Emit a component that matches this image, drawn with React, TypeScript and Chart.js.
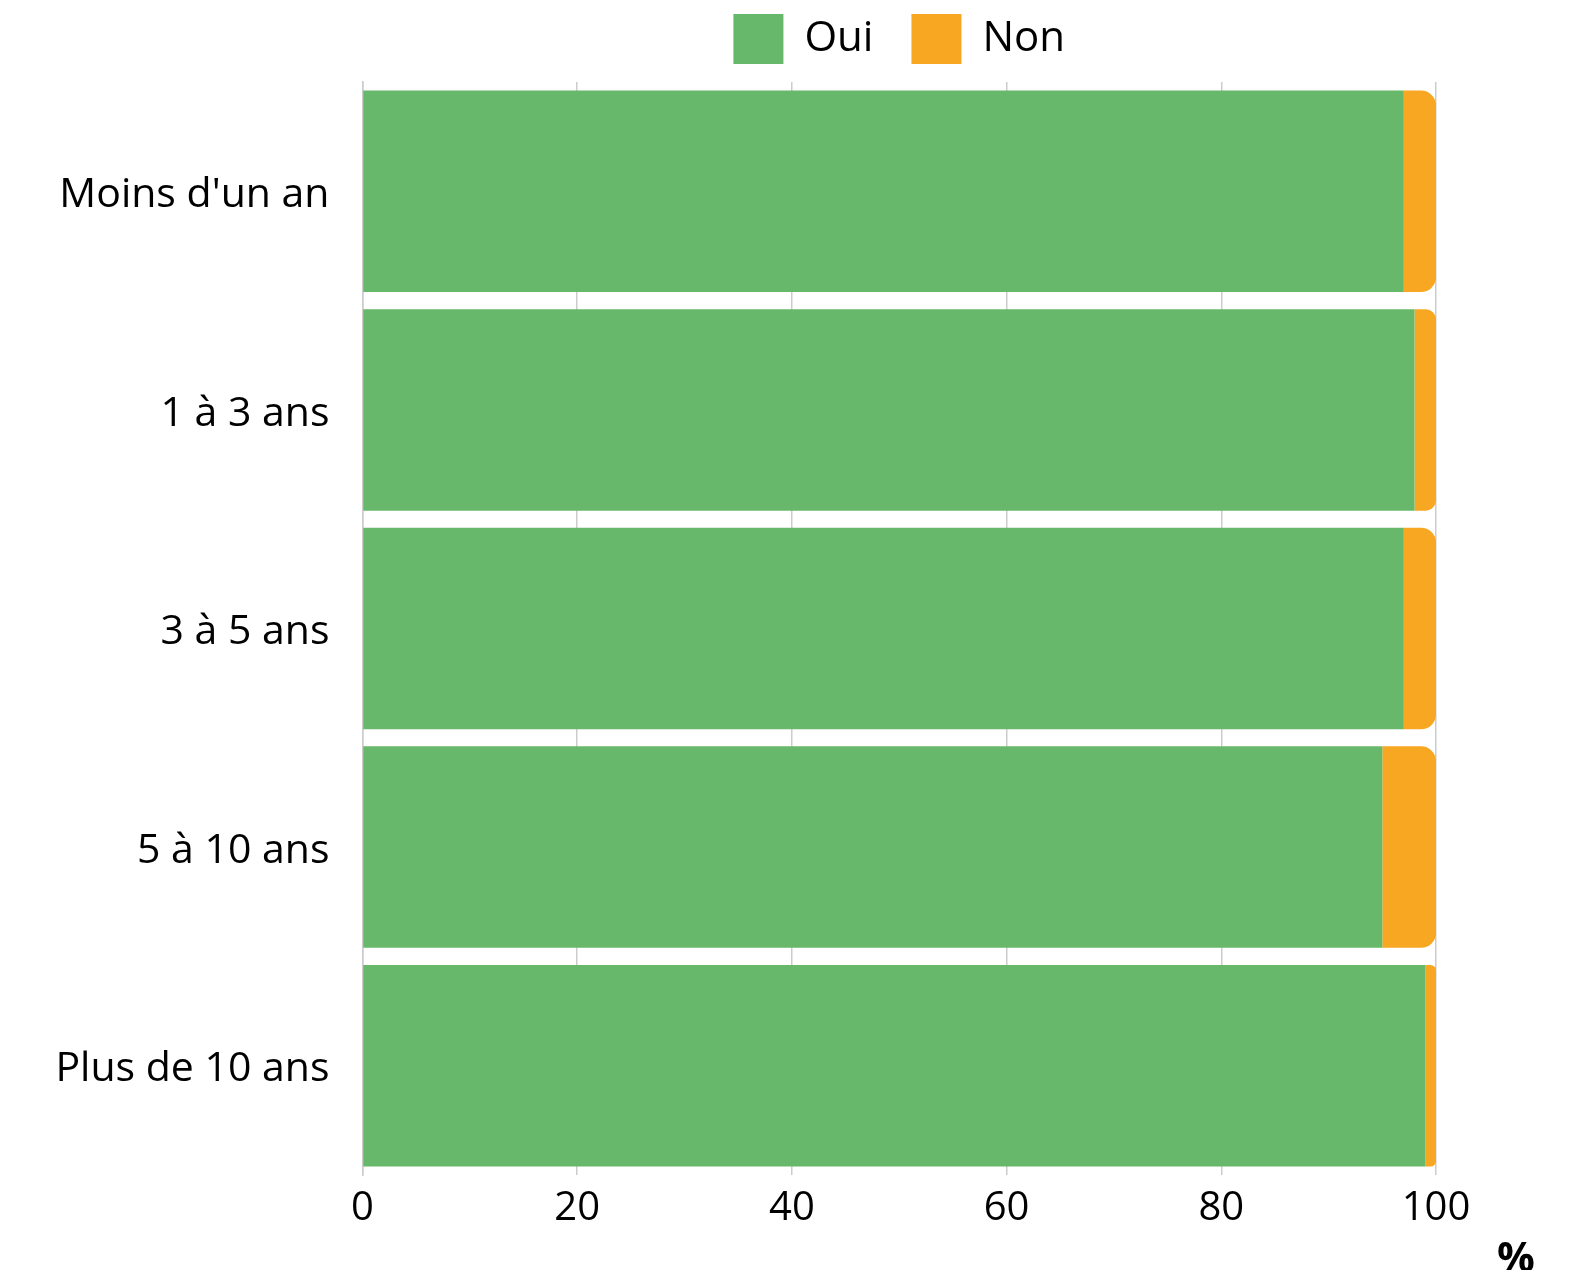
import React, { useEffect, useRef } from "react";
import { Chart, registerables } from "chart.js";

Chart.register(...registerables);

const categories = ["Moins d'un an", "1 à 3 ans", "3 à 5 ans", "5 à 10 ans", "Plus de 10 ans"];
const ouiValues = [97, 98, 97, 95, 99];
const nonValues = [3, 2, 3, 5, 1];
const seriesLabels = ["Oui", "Non"];
const xTickMin = 0;
const xTickMax = 100;
const xTickStep = 20;
const unitLabel = "%";

const FONT = "'Open Sans', sans-serif";

export default function App() {
  const ref = useRef<HTMLCanvasElement | null>(null);

  useEffect(() => {
    if (!ref.current) return;
    const unitPlugin = {
      id: "unitPlugin",
      afterDraw(chart: any) {
        const { ctx, chartArea } = chart;
        ctx.save();
        ctx.font = `bold 42px ${FONT}`;
        ctx.fillStyle = "#000";
        ctx.textAlign = "center";
        ctx.textBaseline = "middle";
        ctx.fillText(unitLabel, chartArea.right + 80, chart.height - 10);
        ctx.restore();
      },
    };
    const chart = new Chart(ref.current, {
      type: "bar",
      data: {
        labels: categories,
        datasets: [
          {
            label: seriesLabels[0],
            data: ouiValues,
            backgroundColor: "#67B86B",
            borderWidth: 0,
            borderRadius: 0,
            barPercentage: 1,
            categoryPercentage: 0.922,
          },
          {
            label: seriesLabels[1],
            data: nonValues,
            backgroundColor: "#F7A721",
            borderWidth: 0,
            borderRadius: 15,
            borderSkipped: "start",
            barPercentage: 1,
            categoryPercentage: 0.922,
          },
        ],
      },
      options: {
        indexAxis: "y",
        animation: false,
        responsive: true,
        maintainAspectRatio: false,
        layout: { padding: { left: 0, right: 128, top: -32, bottom: 0 } },
        plugins: {
          legend: {
            display: true,
            position: "top",
            fullSize: false,
            labels: {
              boxWidth: 50,
              boxHeight: 50,
              padding: 38,
              color: "#000",
              font: { family: FONT, size: 42 },
            },
          },
          title: {
            display: true,
            text: "",
            weight: 500,
            position: "top",
            font: { size: 1, lineHeight: 1 },
            padding: { top: 0, bottom: 7 },
          } as any,
          tooltip: { enabled: false },
        },
        scales: {
          x: {
            stacked: true,
            min: xTickMin,
            max: xTickMax,
            ticks: {
              stepSize: xTickStep,
              color: "#000",
              padding: 10,
              font: { family: FONT, size: 40 },
            },
            grid: { color: "#cccccc", lineWidth: 1.5, drawTicks: false },
            border: { display: false },
            afterFit(scale: any) {
              scale.height = 95;
            },
          },
          y: {
            stacked: true,
            ticks: {
              color: "#000",
              padding: 33,
              labelOffset: 4,
              font: { family: FONT, size: 41 },
            },
            grid: { display: false, drawTicks: false },
            border: { display: true, color: "#cccccc", width: 1.5 },
            afterFit(scale: any) {
              scale.width = 354.5;
            },
          },
        },
      },
      plugins: [unitPlugin],
    });
    return () => chart.destroy();
  }, []);

  return (
    <div style={{ width: 1556, height: 1262, position: "relative" }}>
      <canvas ref={ref} />
    </div>
  );
}
